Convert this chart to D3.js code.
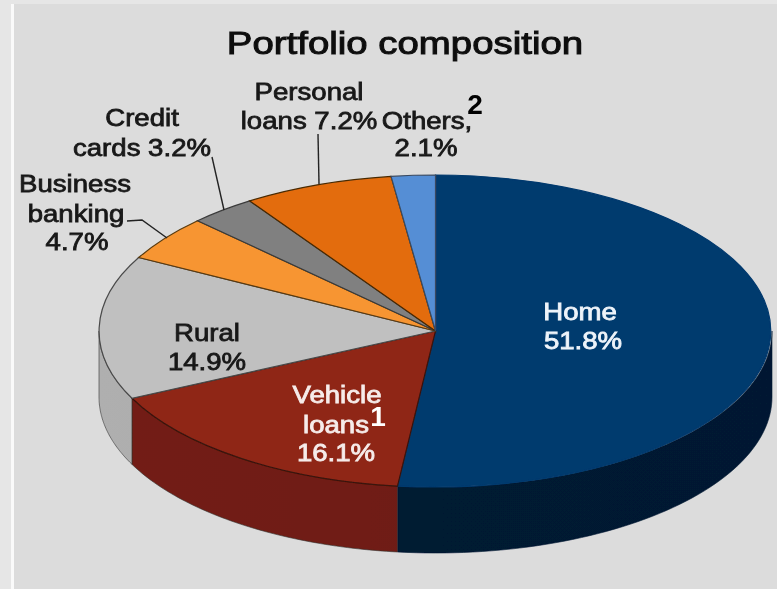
<!DOCTYPE html>
<html><head><meta charset="utf-8">
<script src="https://cdn.jsdelivr.net/npm/d3@7/dist/d3.min.js"></script>
<style>html,body{margin:0;padding:0;background:#e6e6e6}svg{display:block}</style>
</head><body><svg id="c" width="777" height="589"></svg>
<script>
const categories = ["Home","Vehicle loans","Rural","Business banking","Credit cards","Personal loans","Others"];
const shares = [51.8,16.1,14.9,4.7,3.2,7.2,2.1];
const topColors = ["#063a6e","#8f2718","#c0c0c0","#f79530","#808080","#e36c0a","#558ed5"];
const wallColors = ["#021a33","#6f1d12","#a9a9a9","#a9a9a9","#555","#a04a05","#2d5a94"];
const strokes = ["#063a6e","#3a1208","#4a4a4a","#5a3a10","#3a3a3a","#4a2a05","#3a4a60"];
const title = "Portfolio composition";
const labels = [
 {t:"Personal",x:309,y:100,c:"#1a1a1a"},{t:"loans 7.2%",x:309,y:129,c:"#1a1a1a"},
 {t:"Others,",x:427,y:129,c:"#1a1a1a"},{t:"2.1%",x:426,y:156,c:"#1a1a1a"},
 {t:"Credit",x:142,y:126,c:"#1a1a1a"},{t:"cards 3.2%",x:142,y:156,c:"#1a1a1a"},
 {t:"Business",x:75,y:192,c:"#1a1a1a"},{t:"banking",x:76,y:222,c:"#1a1a1a"},{t:"4.7%",x:77,y:250,c:"#1a1a1a"},
 {t:"Rural",x:207,y:341,c:"#1a1a1a"},{t:"14.9%",x:207,y:370,c:"#1a1a1a"},
 {t:"Vehicle",x:337,y:403,c:"#f6ecea"},{t:"loans",x:336,y:433,c:"#f6ecea"},{t:"16.1%",x:336,y:461,c:"#f6ecea"},
 {t:"Home",x:580,y:320,c:"#eef4fa"},{t:"51.8%",x:583,y:349,c:"#eef4fa"}
];
const notes = [{t:"2",x:475,y:114,c:"#000"},{t:"1",x:378,y:426,c:"#fff"}];
const leaders = [
 [[212,157],[224,210]],
 [[318,134],[319,184]],
 [[127,221],[142,220],[167,238]]
];

const W=777,H=589,cx=435.5,cy=331,rx=336.5,ry=156,depth=66;
const svg=d3.select("#c");
svg.append("rect").attr("width",W).attr("height",H).attr("fill","#e6e6e6");
svg.append("rect").attr("x",11).attr("width",3).attr("y",4).attr("height",H).attr("fill","#fafafa");
svg.append("rect").attr("x",14).attr("y",4).attr("width",W-14).attr("height",H-4).attr("fill","#dcdcdc");

const pie=d3.pie().sort(null).value(d=>d)(shares);
const px=a=>cx+rx*Math.sin(a), py=a=>cy-ry*Math.cos(a);
const HP=Math.PI/2;

const defs=svg.append("defs");
const soft=defs.append("filter").attr("id","soft").attr("x","-5%").attr("y","-5%").attr("width","110%").attr("height","110%");
soft.append("feGaussianBlur").attr("stdDeviation",0.45);
wallColors.forEach((c,i)=>{
  const g=defs.append("linearGradient").attr("id","w"+i).attr("gradientUnits","userSpaceOnUse")
    .attr("x1",cx-rx).attr("x2",cx+rx).attr("y1",0).attr("y2",0);
  g.append("stop").attr("offset","0").attr("stop-color",d3.color(c).brighter(0.1));
  g.append("stop").attr("offset","1").attr("stop-color",d3.color(c).darker(0.15));
});

const chart=svg.append("g").attr("filter","url(#soft)");
const line=d3.line().x(d=>d[0]).y(d=>d[1]);
pie.forEach((p,i)=>{
  const a0=Math.max(p.startAngle,HP), a1=Math.min(p.endAngle,3*HP);
  if(a1<=a0) return;
  const angs=d3.range(0,61).map(k=>a0+(a1-a0)*k/60);
  const pts=angs.map(a=>[px(a),py(a)]).concat(angs.slice().reverse().map(a=>[px(a),py(a)+depth]));
  chart.append("path").attr("d",line(pts)+"Z").attr("fill",`url(#w${i})`)
    .attr("stroke",i===0?"#021a33":"#333").attr("stroke-width",0.6);
});

const arc=d3.arc().innerRadius(0).outerRadius(1);
const topG=chart.append("g").attr("transform",`translate(${cx},${cy}) scale(${rx},${ry})`);
topG.selectAll("path").data(pie).join("path")
  .attr("d",arc).attr("fill",(d,i)=>topColors[i])
  .attr("stroke",(d,i)=>strokes[i]).attr("stroke-width",1.2)
  .attr("vector-effect","non-scaling-stroke");

chart.selectAll(".lead").data(leaders).join("path").attr("class","lead")
  .attr("d",d=>line(d)).attr("fill","none").attr("stroke","#222").attr("stroke-width",1.4);

const font="'Liberation Sans',Arial,sans-serif";
const texts=svg.append("g").attr("filter","url(#soft)");
texts.append("text").attr("transform","translate(405,54) scale(1.2,1)").attr("text-anchor","middle")
  .attr("font-family",font).attr("font-size",32).attr("fill","#111")
  .attr("stroke","#111").attr("stroke-width",1).text(title);
texts.selectAll(".lb").data(labels).join("text").attr("class","lb")
  .attr("transform",d=>`translate(${d.x},${d.y}) scale(1.15,1)`).attr("text-anchor","middle")
  .attr("font-family",font).attr("font-size",24)
  .attr("fill",d=>d.c).attr("stroke",d=>d.c).attr("stroke-width",0.8).text(d=>d.t);
texts.selectAll(".nt").data(notes).join("text").attr("class","nt")
  .attr("x",d=>d.x).attr("y",d=>d.y).attr("text-anchor","middle")
  .attr("font-family",font).attr("font-weight","bold").attr("font-size",28).attr("fill",d=>d.c).text(d=>d.t);
</script></body></html>
